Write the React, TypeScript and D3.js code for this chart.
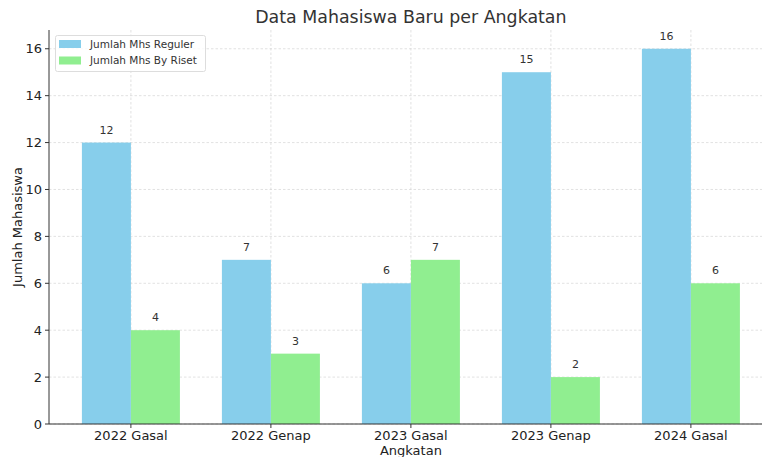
import React from "react";
import * as d3 from "d3";

const categories = ["2022 Gasal", "2022 Genap", "2023 Gasal", "2023 Genap", "2024 Gasal"];
const reguler = [12, 7, 6, 15, 16];
const riset = [4, 3, 7, 2, 6];
const yTicks = [0, 2, 4, 6, 8, 10, 12, 14, 16];
const seriesNames = ["Jumlah Mhs Reguler", "Jumlah Mhs By Riset"];
const colors = ["#87CEEB", "#90EE90"];

const W = 762, H = 457;
const left = 49, top = 30, bottom = 424;
const barW = 0.35;

export default function App() {
  const x = d3.scaleLinear().domain([-0.585, 4.585]).range([left, left + 5.17 * 140]);
  const y = d3.scaleLinear().domain([0, 16.8]).range([bottom, top]);
  const font = "DejaVu Sans, sans-serif";
  const series = [reguler, riset];
  return (
    <svg width={W} height={H} style={{ position: "absolute", left: 0, top: 0, fontFamily: font }}>
      <rect x={0} y={0} width={W} height={H} fill="#fff" />
      {/* grid */}
      {yTicks.map((t) => (
        <line key={"gy" + t} x1={left} x2={W} y1={y(t)} y2={y(t)} stroke="#d6d6d6" strokeWidth={0.7} strokeDasharray="2.5,2" />
      ))}
      {categories.map((c, i) => (
        <line key={"gx" + c} x1={x(i)} x2={x(i)} y1={top} y2={bottom} stroke="#d6d6d6" strokeWidth={0.7} strokeDasharray="2.5,2" />
      ))}
      {/* bars */}
      {series.map((vals, s) =>
        vals.map((v, i) => {
          const x0 = s === 0 ? x(i - barW) : x(i);
          const w = x(i + barW) - x(i);
          return (
            <g key={`b${s}-${i}`}>
              <rect x={x0} y={y(v)} width={w} height={y(0) - y(v)} fill={colors[s]} />
              <text x={x0 + w / 2} y={y(v) - 9} textAnchor="middle" fontSize={11} fill="#333">{v}</text>
            </g>
          );
        })
      )}
      {/* axes */}
      <line x1={left} x2={left} y1={top} y2={bottom} stroke="#333" strokeWidth={1} />
      <line x1={left} x2={W} y1={bottom} y2={bottom} stroke="#333" strokeWidth={1} />
      {yTicks.map((t) => (
        <g key={"ty" + t}>
          <line x1={left - 4} x2={left} y1={y(t)} y2={y(t)} stroke="#333" />
          <text x={left - 7} y={y(t)} dy="0.35em" textAnchor="end" fontSize={13} fill="#222">{t}</text>
        </g>
      ))}
      {categories.map((c, i) => (
        <g key={"tx" + c}>
          <line x1={x(i)} x2={x(i)} y1={bottom} y2={bottom + 4} stroke="#333" />
          <text x={x(i)} y={bottom + 16} textAnchor="middle" fontSize={13} fill="#222">{c}</text>
        </g>
      ))}
      <text x={x(2)} y={455} textAnchor="middle" fontSize={13} fill="#222">Angkatan</text>
      <text transform={`translate(22,${(top + bottom) / 2}) rotate(-90)`} textAnchor="middle" fontSize={13} fill="#222">Jumlah Mahasiswa</text>
      <text x={x(2)} y={23} textAnchor="middle" fontSize={17.4} fill="#333">Data Mahasiswa Baru per Angkatan</text>
      {/* legend */}
      <g transform="translate(55,35)">
        <rect x={0.5} y={0.5} width={150} height={36} rx={2} fill="#fff" fillOpacity={0.8} stroke="#ddd" />
        {seriesNames.map((n, i) => (
          <g key={n} transform={`translate(4,${9 + i * 16.5})`}>
            <rect x={0} y={-4} width={22} height={8} fill={colors[i]} />
            <text x={31} y={0} dy="0.35em" fontSize={10.5} fill="#333">{n}</text>
          </g>
        ))}
      </g>
    </svg>
  );
}
